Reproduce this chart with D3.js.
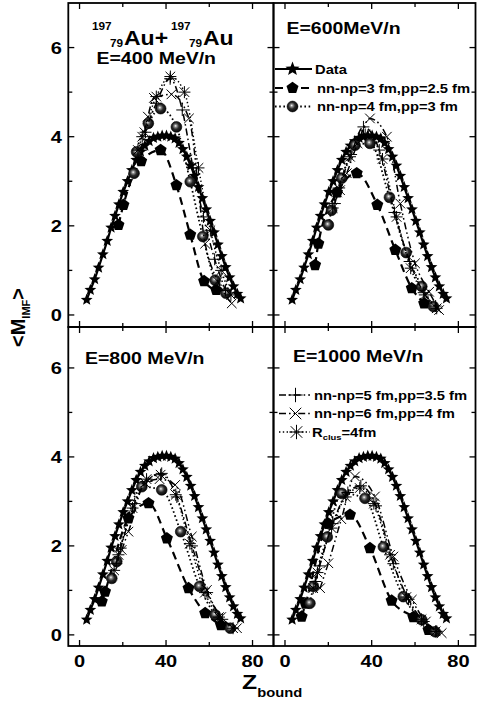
<!DOCTYPE html>
<html>
<head>
<meta charset="utf-8">
<script src="https://cdn.jsdelivr.net/npm/d3@7"></script>
<style>
  body { margin: 0; background: #fff; }
  svg { display: block; }
</style>
</head>
<body>
<svg width="478" height="703"></svg>
<script>

// ---- data (Z_bound, <M_IMF>) ----

var dataZ = [3.3,5,7,8.8,10.8,12.8,14.6,16.4,18.2,20.2,22.2,24.2,26.2,28.2,30.2,32.2,34.2,36.2,38.2,40.2,42.2,44.2,46,47.8,49.6,51.4,53.2,55,56.8,58.6,60.4,62.2,64,65.8,67.6,69.4,71.2,73,74.5]
var dataM = [0.34,0.56,0.8,1.06,1.36,1.66,1.96,2.22,2.48,2.76,3.0,3.25,3.48,3.66,3.8,3.9,3.97,4.0,4.02,4.02,4.0,3.96,3.86,3.72,3.55,3.35,3.12,2.87,2.62,2.37,2.11,1.85,1.58,1.32,1.07,0.84,0.64,0.47,0.37]

// E = 400 MeV/n
var pent400  = [[18,2.02],[20.3,2.47],[28.5,3.45],[37.5,3.7],[44.8,2.91],[51.2,1.8],[57.6,0.76],[63.2,0.56]]
var ball400  = [[25.2,3.18],[26.4,3.66],[31.8,4.3],[37.5,4.63],[44.8,4.22],[51.2,2.99],[57,1.76],[62.7,0.78],[67.7,0.49]]
var plus400  = [[28.5,3.7],[30.5,4.1],[35.5,4.75],[41.9,5.3],[47.5,4.6],[52.5,3.3],[57.3,2.2],[62.5,1.25],[67.5,0.55]]
var cross400 = [[30,4.1],[31.6,4.45],[34.4,4.87],[42.5,4.95],[50.6,4.41],[58.1,1.6],[64,0.75],[70.4,0.26]]
var aster400 = [[27,3.7],[29,4.0],[35.5,4.9],[42,5.35],[48.5,5.0],[55,3.3],[60.5,1.9],[65.5,1.0],[70,0.45]]

// E = 600 MeV/n
var pent600  = [[13.9,1.12],[15.4,1.6],[24,2.75],[33.1,3.18],[42.6,2.47],[50.9,1.46],[58.5,0.6],[64.2,0.26]]
var ball600  = [[20,2.02],[21.5,2.35],[26.2,3.07],[32.3,3.81],[39.2,3.85],[48.2,2.64],[55.9,1.4],[63.1,0.64],[68.5,0.19]]
var plus600  = [[23,2.5],[25,2.85],[30.5,3.6],[36.2,4.22],[43.5,3.7],[50.5,2.3],[57.5,1.2],[64,0.5],[69.5,0.2]]
var cross600 = [[25.4,2.8],[28.5,3.18],[33.5,3.85],[39.2,4.41],[47,4.0],[53.2,2.5],[60,1.16],[66.5,0.52],[71.1,0.11]]
var aster600 = [[22,2.4],[24,2.75],[30,3.55],[37,4.05],[45,3.5],[51.5,2.2],[58,1.05],[64.5,0.45],[70,0.15]]

// E = 800 MeV/n
var pent800  = [[10.3,0.75],[11.8,0.97],[22.6,2.62],[31.9,2.96],[40.4,2.17],[50.4,1.05],[58.1,0.49],[65.4,0.22]]
var ball800  = [[14.9,1.27],[17.2,1.65],[28.8,3.33],[38,3.26],[46.8,2.32],[55.5,1.09],[62.7,0.45],[69.7,0.15]]
var plus800  = [[17,1.6],[19,1.95],[25.5,2.95],[31,3.45],[38,3.63],[45,3.1],[52,2.0],[59,0.95],[66,0.35]]
var cross800 = [[19.5,1.91],[22.6,2.32],[30.3,3.41],[37,3.5],[44.2,3.37],[51.9,2.21],[58.9,1.01],[65.5,0.4],[72.8,0.15]]
var aster800 = [[16,1.45],[18,1.8],[24.5,2.85],[31,3.5],[37.5,3.6],[44.5,3.15],[51,2.05],[58,0.95],[64.5,0.4],[71,0.15]]

// E = 1000 MeV/n
var pent1000  = [[7.7,0.41],[9.5,0.7],[20,2.5],[30,2.7],[39.2,1.95],[49.2,0.77],[59.2,0.4],[66.2,0.11]]
var ball1000  = [[11.5,0.71],[13.1,1.09],[19.5,2.2],[26.2,3.18],[36.9,3.07],[45.4,1.98],[54.6,0.86],[63.1,0.34],[69.3,0.07]]
var plus1000  = [[14,1.2],[16,1.55],[22,2.5],[29,3.2],[35,3.35],[42,2.9],[50,1.6],[57,0.8],[64,0.3],[70,0.08]]
var cross1000 = [[16.2,1.05],[20,1.61],[26,2.6],[32.3,3.56],[41.5,3.11],[50,1.76],[58.5,0.79],[65,0.3],[72.3,0.04]]
var aster1000 = [[13,1.05],[15,1.4],[21.5,2.4],[28,3.1],[34.5,3.3],[41,2.95],[48.5,1.8],[56,0.85],[63,0.35],[69.5,0.08]]

var xTicks = [0,20,40,60,80]
var xLabels = [0,40,80]
var yTicks = [0,1,2,3,4,5,6]
var yLabels = [0,2,4,6]

var legendTop = ["Data", "nn-np=3 fm,pp=2.5 fm", "nn-np=4 fm,pp=3 fm"]
var legendBottom = ["nn-np=5 fm,pp=3.5 fm", "nn-np=6 fm,pp=4 fm", "R|clus|=4fm"]

// ---- drawing ----

var svg = d3.select("svg")
var FONT = "'Liberation Sans', Arial, sans-serif"
var SX = 1.18

var defs = svg.append("defs")
var grad = defs.append("radialGradient").attr("id", "ball")
  .attr("cx", 0.45).attr("cy", 0.45).attr("r", 0.6).attr("fx", 0.42).attr("fy", 0.4)
grad.append("stop").attr("offset", 0).attr("stop-color", "#ffffff")
grad.append("stop").attr("offset", 0.2).attr("stop-color", "#909090")
grad.append("stop").attr("offset", 0.5).attr("stop-color", "#2a2a2a")
grad.append("stop").attr("offset", 1).attr("stop-color", "#000")

var styles = {
  data:  {dash: null, w: 2.2, marker: "star"},
  pent:  {dash: "8,5", w: 2.2, marker: "pent"},
  ball:  {dash: "1.6,2.6", w: 1.8, marker: "ball"},
  plus:  {dash: "7,3,1.6,3", w: 1.5, marker: "plus"},
  cross: {dash: "7,3,1.6,3,1.6,3", w: 1.5, marker: "cross"},
  aster: {dash: "1.4,2.4", w: 1.5, marker: "aster"}
}

function polyPath(n, r, ri) {
  var p = []
  var k = ri ? 2*n : n
  for (var i = 0; i < k; i++) {
    var a = -Math.PI/2 + i*2*Math.PI/k
    var rr = (ri && i % 2) ? ri : r
    p.push([rr*Math.cos(a), rr*Math.sin(a)])
  }
  return "M" + p.join("L") + "Z"
}

function drawMarker(g, type, x, y, big) {
  var k = big ? 1.2 : 1
  var tr = "translate(" + x + "," + y + ")"
  if (type == "star") {
    g.append("path").attr("d", polyPath(5, 6.2*k, 2.7*k)).attr("transform", tr).attr("fill", "#000")
  } else if (type == "pent") {
    g.append("path").attr("d", polyPath(5, 6.3)).attr("transform", tr).attr("fill", "#000")
  } else if (type == "ball") {
    g.append("circle").attr("cx", x).attr("cy", y).attr("r", 5.4)
      .attr("fill", "url(#ball)").attr("stroke", "#000").attr("stroke-width", 0.6)
  } else {
    var s = 6*k, c = s*0.8, d = ""
    if (type == "plus" || type == "aster") d += "M" + (-s) + ",0H" + s + "M0," + (-s) + "V" + s
    if (type == "cross" || type == "aster") d += "M" + (-c) + "," + (-c) + "L" + c + "," + c +
      "M" + (-c) + "," + c + "L" + c + "," + (-c)
    g.append("path").attr("d", d).attr("transform", tr)
      .attr("stroke", "#000").attr("stroke-width", 1).attr("fill", "none")
  }
}

function drawSeries(g, pts, st, x, y) {
  var line = d3.line().x(function(d){ return x(d[0]) }).y(function(d){ return y(d[1]) })
    .curve(st.marker == "star" ? d3.curveLinear : d3.curveMonotoneX)
  g.append("path").attr("d", line(pts)).attr("fill", "none").attr("stroke", "#000")
    .attr("stroke-width", st.w).attr("stroke-dasharray", st.dash)
  pts.forEach(function(d){ drawMarker(g, st.marker, x(d[0]), y(d[1])) })
}

function text(g, x, y, size, anchor) {
  return g.append("text")
    .attr("transform", "translate(" + x + "," + y + ") scale(" + SX + ",1)")
    .attr("font-family", FONT).attr("font-weight", "bold").attr("font-size", size)
    .attr("text-anchor", anchor || "start")
}

var dataPts = dataZ.map(function(z, i){ return [z, dataM[i]] })

var panels = [
  {title: "E=400 MeV/n", tx: 96.5, ty: 63.5, xr: [68.3, 273.5], xd: [-5.2, 89.7], yr: [327, 3], yd: [-0.27, 7.0],
   series: [pent400, ball400, plus400, cross400, aster400], left: true, bottom: false},
  {title: "E=600MeV/n", tx: 286.5, ty: 33.5, xr: [273.5, 475.5], xd: [-5.3, 87.9], yr: [327, 3], yd: [-0.27, 7.0],
   series: [pent600, ball600, plus600, cross600, aster600], left: false, bottom: false},
  {title: "E=800 MeV/n", tx: 85, ty: 363.5, xr: [68.3, 273.5], xd: [-5.2, 89.7], yr: [646, 327], yd: [-0.25, 6.92],
   series: [pent800, ball800, plus800, cross800, aster800], left: true, bottom: true},
  {title: "E=1000 MeV/n", tx: 293, ty: 362, xr: [273.5, 475.5], xd: [-5.3, 87.9], yr: [646, 327], yd: [-0.25, 6.92],
   series: [pent1000, ball1000, plus1000, cross1000, aster1000], left: false, bottom: true}
]
var seriesKeys = ["pent", "ball", "plus", "cross", "aster"]

panels.forEach(function(p) {
  var x = d3.scaleLinear().domain(p.xd).range(p.xr)
  var y = d3.scaleLinear().domain(p.yd).range(p.yr)
  var g = svg.append("g")

  // ticks (inward on every side)
  xTicks.forEach(function(t) {
    var len = xLabels.indexOf(t) >= 0 ? 6 : 4
    g.append("line").attr("x1", x(t)).attr("x2", x(t)).attr("y1", p.yr[0]).attr("y2", p.yr[0] - len)
      .attr("stroke", "#000").attr("stroke-width", 1.3)
    g.append("line").attr("x1", x(t)).attr("x2", x(t)).attr("y1", p.yr[1]).attr("y2", p.yr[1] + len)
      .attr("stroke", "#000").attr("stroke-width", 1.3)
  })
  yTicks.forEach(function(t) {
    var len = yLabels.indexOf(t) >= 0 ? 6 : 4
    g.append("line").attr("y1", y(t)).attr("y2", y(t)).attr("x1", p.xr[0]).attr("x2", p.xr[0] + len)
      .attr("stroke", "#000").attr("stroke-width", 1.3)
    g.append("line").attr("y1", y(t)).attr("y2", y(t)).attr("x1", p.xr[1]).attr("x2", p.xr[1] - len)
      .attr("stroke", "#000").attr("stroke-width", 1.3)
  })

  g.append("rect").attr("x", p.xr[0]).attr("y", p.yr[1])
    .attr("width", p.xr[1] - p.xr[0]).attr("height", p.yr[0] - p.yr[1])
    .attr("fill", "none").attr("stroke", "#000").attr("stroke-width", 1.8)

  if (p.left) {
    yLabels.forEach(function(t) {
      text(g, 62, y(t) + 6, 17, "end").text(t)
    })
  }
  if (p.bottom) {
    xLabels.forEach(function(t) {
      text(g, x(t), 667, 17, "middle").text(t)
    })
  }

  drawSeries(g, dataPts, styles.data, x, y)
  p.series.forEach(function(s, i) { drawSeries(g, s, styles[seriesKeys[i]], x, y) })

  text(g, p.tx, p.ty, 16.5).text(p.title)
})

// reaction label in the first panel: 197/79 Au + 197/79 Au
text(svg, 92, 30, 10).text("197")
text(svg, 110, 47, 10).text("79")
text(svg, 124, 45, 19.5).text("Au+")
text(svg, 171, 30, 10).text("197")
text(svg, 189, 47, 10).text("79")
text(svg, 203, 45, 19.5).text("Au")

// legends
function legendRow(y, key, label, lx0, lx1, mx, tx) {
  var st = styles[key]
  svg.append("line").attr("x1", lx0).attr("x2", lx1).attr("y1", y).attr("y2", y)
    .attr("stroke", "#000").attr("stroke-width", st.w).attr("stroke-dasharray", st.dash)
  drawMarker(svg, st.marker, mx, y, true)
  var t = text(svg, tx, y + 4.5, 12.5)
  var parts = label.split("|")
  t.append("tspan").text(parts[0])
  if (parts.length > 1) {
    t.append("tspan").attr("font-size", 8).attr("dy", 3).text(parts[1])
    t.append("tspan").attr("dy", -3).text(parts[2])
  }
}
legendRow(69, "data", legendTop[0], 275, 312, 292.5, 315)
legendRow(88, "pent", legendTop[1], 275, 312, 292.5, 317)
legendRow(106.5, "ball", legendTop[2], 275, 312, 292.5, 317)
legendRow(395, "plus", legendBottom[0], 279, 310, 295.5, 314)
legendRow(413.5, "cross", legendBottom[1], 279, 310, 295.5, 314)
legendRow(432, "aster", legendBottom[2], 279, 310, 296.5, 312)

// axis titles
var yt = svg.append("text").attr("transform", "translate(25,347) rotate(-90)")
  .attr("font-family", FONT).attr("font-weight", "bold").attr("font-size", 20)
yt.append("tspan").text("<M")
yt.append("tspan").attr("font-size", 11).attr("dy", 5).text("IMF")
yt.append("tspan").attr("dy", -5).text(">")

var xt = text(svg, 242, 689, 21)
xt.text("Z")
xt.append("tspan").attr("font-size", 12.5).attr("dy", 8).text("bound")

</script>
</body>
</html>
